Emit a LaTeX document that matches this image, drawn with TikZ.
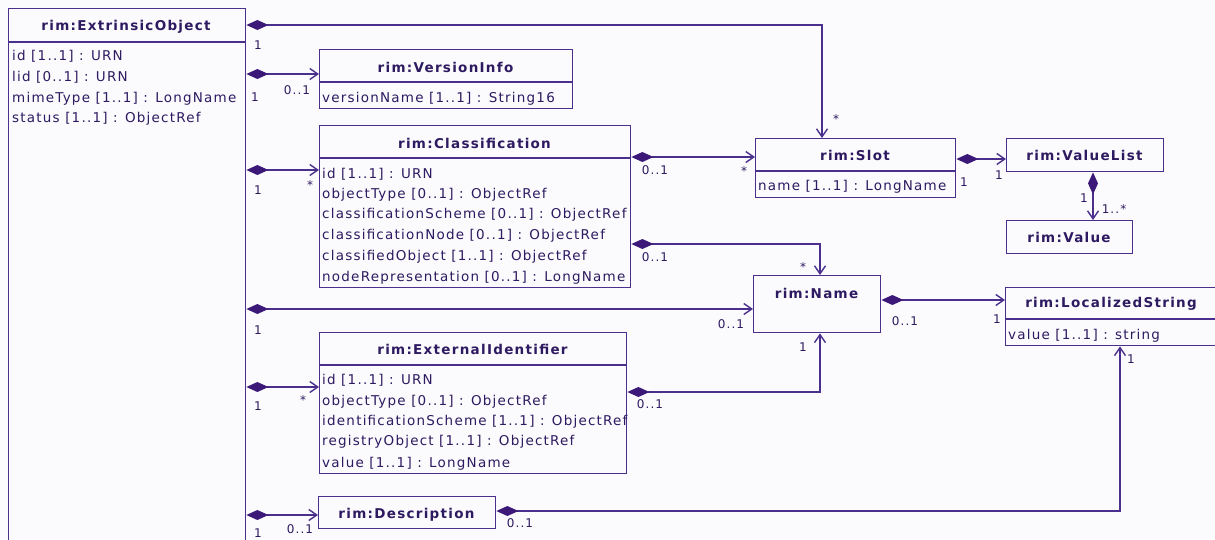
\documentclass[tikz,border=0pt]{standalone}
\usepackage{fontspec}
\newfontfamily\umlfont[LetterSpace=9]{DejaVu Sans}
\newfontfamily\umlbold[LetterSpace=9.5]{DejaVu Sans Bold}
\usetikzlibrary{arrows.meta,calc}
\definecolor{bg}{RGB}{251,251,254}
\definecolor{ln}{RGB}{74,48,140}
\definecolor{dia}{RGB}{60,25,120}
\definecolor{tx}{RGB}{46,26,96}
\begin{document}
\begin{tikzpicture}[x=1pt,y=-1pt,
  umlbox/.style={draw=ln,line width=1.4pt,fill=none,inner sep=0pt,anchor=north west},
  hdr/.style={draw=ln,line width=1.4pt},
  ttl/.style={font=\umlbold\fontsize{13.5}{16}\selectfont,text=tx,inner sep=0pt,text height=10pt,text depth=0pt,anchor=center},
  att/.style={font=\umlfont\fontsize{13.5}{16}\selectfont,text=tx,inner sep=0pt,text height=10pt,text depth=0pt,anchor=west},
  lbl/.style={font=\umlfont\fontsize{12}{14}\selectfont,text=tx,inner sep=0pt,text height=9pt,text depth=0pt,anchor=center},
  assoc/.style={draw=ln,line width=1.4pt,{Diamond[length=22pt,width=10pt,fill=dia,color=dia]}-{Straight Barb[length=8pt,width=11pt]}},
]
\useasboundingbox (0,0) rectangle (1215,539);
\fill[bg] (0,0) rectangle (1215,539);
\clip (0,0) rectangle (1215,539);

% ---------- classes ----------
\node[umlbox,minimum width=237pt,minimum height=560pt] (ext) at (8,8) {};
\draw[hdr] ($(ext.north west)+(0,34)$) -- ($(ext.north east)+(0,34)$);
\node[ttl] (extT) at (126,25) {rim:ExtrinsicObject};
\node[att] (extA1) at (12,55) {id [1..1] : URN};
\node[att] (extA2) at (12,76) {lid [0..1] : URN};
\node[att] (extA3) at (12,97) {mimeType [1..1] : LongName};
\node[att] (extA4) at (12,117) {status [1..1] : ObjectRef};

\node[umlbox,minimum width=253pt,minimum height=59pt] (vi) at (319,49) {};
\draw[hdr] ($(vi.north west)+(0,33)$) -- ($(vi.north east)+(0,33)$);
\node[ttl] (viT) at (445.5,67) {rim:VersionInfo};
\node[att] (viA1) at (322,97) {versionName [1..1] : String16};

\node[umlbox,minimum width=311pt,minimum height=162pt] (cls) at (319,125) {};
\draw[hdr] ($(cls.north west)+(0,33)$) -- ($(cls.north east)+(0,33)$);
\node[ttl] (clsT) at (474.5,143) {rim:Classification};
\node[att] (clsA1) at (322,173) {id [1..1] : URN};
\node[att] (clsA2) at (322,193) {objectType [0..1] : ObjectRef};
\node[att] (clsA3) at (322,213) {classificationScheme [0..1] : ObjectRef};
\node[att] (clsA4) at (322,234) {classificationNode [0..1] : ObjectRef};
\node[att] (clsA5) at (322,255) {classifiedObject [1..1] : ObjectRef};
\node[att] (clsA6) at (322,276) {nodeRepresentation [0..1] : LongName};

\node[umlbox,minimum width=200pt,minimum height=59pt] (slot) at (755,138) {};
\draw[hdr] ($(slot.north west)+(0,33)$) -- ($(slot.north east)+(0,33)$);
\node[ttl] (slotT) at (855,155) {rim:Slot};
\node[att] (slotA1) at (758,185) {name [1..1] : LongName};

\node[umlbox,minimum width=157pt,minimum height=33pt] (vl) at (1006,138) {};
\node[ttl] (vlT) at (1084.5,155) {rim:ValueList};

\node[umlbox,minimum width=126pt,minimum height=33pt] (val) at (1006,220) {};
\node[ttl] (valT) at (1069,237) {rim:Value};

\node[umlbox,minimum width=127pt,minimum height=57pt] (name) at (753,275) {};
\node[ttl] (nameT) at (816.5,293) {rim:Name};

\node[umlbox,minimum width=212pt,minimum height=58pt] (ls) at (1005,287) {};
\draw[hdr] ($(ls.north west)+(0,32)$) -- ($(ls.north east)+(0,32)$);
\node[ttl] (lsT) at (1111,302) {rim:LocalizedString};
\node[att] (lsA1) at (1008,334) {value [1..1] : string};

\node[umlbox,minimum width=307pt,minimum height=141pt] (eid) at (319,332) {};
\draw[hdr] ($(eid.north west)+(0,33)$) -- ($(eid.north east)+(0,33)$);
\node[ttl] (eidT) at (472.5,349) {rim:ExternalIdentifier};
\node[att] (eidA1) at (322,379) {id [1..1] : URN};
\node[att] (eidA2) at (322,400) {objectType [0..1] : ObjectRef};
\node[att] (eidA3) at (322,420) {identificationScheme [1..1] : ObjectRef};
\node[att] (eidA4) at (322,440) {registryObject [1..1] : ObjectRef};
\node[att] (eidA5) at (322,462) {value [1..1] : LongName};

\node[umlbox,minimum width=177pt,minimum height=32pt] (desc) at (318,496) {};
\node[ttl] (descT) at (406.5,513) {rim:Description};

% ---------- connectors ----------
\draw[assoc] (ext.east |- 0,25) -| (slot.north -| 822,0);
\node[lbl] (c1a) at (258,45) {1};
\node[lbl] (c1b) at (836,119) {*};

\draw[assoc] (ext.east |- 0,74) -- (vi.west |- 0,74);
\node[lbl] (c2a) at (255,97) {1};
\node[lbl] (c2b) at (297,90) {0..1};

\draw[assoc] (ext.east |- 0,170) -- (cls.west |- 0,170);
\node[lbl] (c3a) at (258,190) {1};
\node[lbl] (c3b) at (310,185) {*};

\draw[assoc] (cls.east |- 0,157) -- (slot.west |- 0,157);
\node[lbl] (c4a) at (655,170) {0..1};
\node[lbl] (c4b) at (744,171) {*};

\draw[assoc] (slot.east |- 0,159) -- (vl.west |- 0,159);
\node[lbl] (c5a) at (964,182) {1};
\node[lbl] (c5b) at (999,175) {1};

\draw[assoc] (vl.south -| 1093,0) -- (val.north -| 1093,0);
\node[lbl] (c6a) at (1084,198) {1};
\node[lbl] (c6b) at (1114,209) {1..*};

\draw[assoc] (cls.east |- 0,244) -| (name.north -| 820,0);
\node[lbl] (c7a) at (655,257) {0..1};
\node[lbl] (c7b) at (803,267) {*};

\draw[assoc] (ext.east |- 0,309) -- (name.west |- 0,309);
\node[lbl] (c8a) at (258,330) {1};
\node[lbl] (c8b) at (731,324) {0..1};

\draw[assoc] (name.east |- 0,300) -- (ls.west |- 0,300);
\node[lbl] (c9a) at (905,321) {0..1};
\node[lbl] (c9b) at (997,319) {1};

\draw[assoc] (ext.east |- 0,387) -- (eid.west |- 0,387);
\node[lbl] (c10a) at (258,406) {1};
\node[lbl] (c10b) at (303,400) {*};

\draw[assoc] (eid.east |- 0,392) -| (name.south -| 820,0);
\node[lbl] (c11a) at (650,404) {0..1};
\node[lbl] (c11b) at (803,347) {1};

\draw[assoc] (ext.east |- 0,515) -- (desc.west |- 0,515);
\node[lbl] (c12a) at (258,533) {1};
\node[lbl] (c12b) at (300,529) {0..1};

\draw[assoc] (desc.east |- 0,511) -| (ls.south -| 1120,0);
\node[lbl] (c13a) at (520,523) {0..1};
\node[lbl] (c13b) at (1131,359) {1};
\end{tikzpicture}
\end{document}
